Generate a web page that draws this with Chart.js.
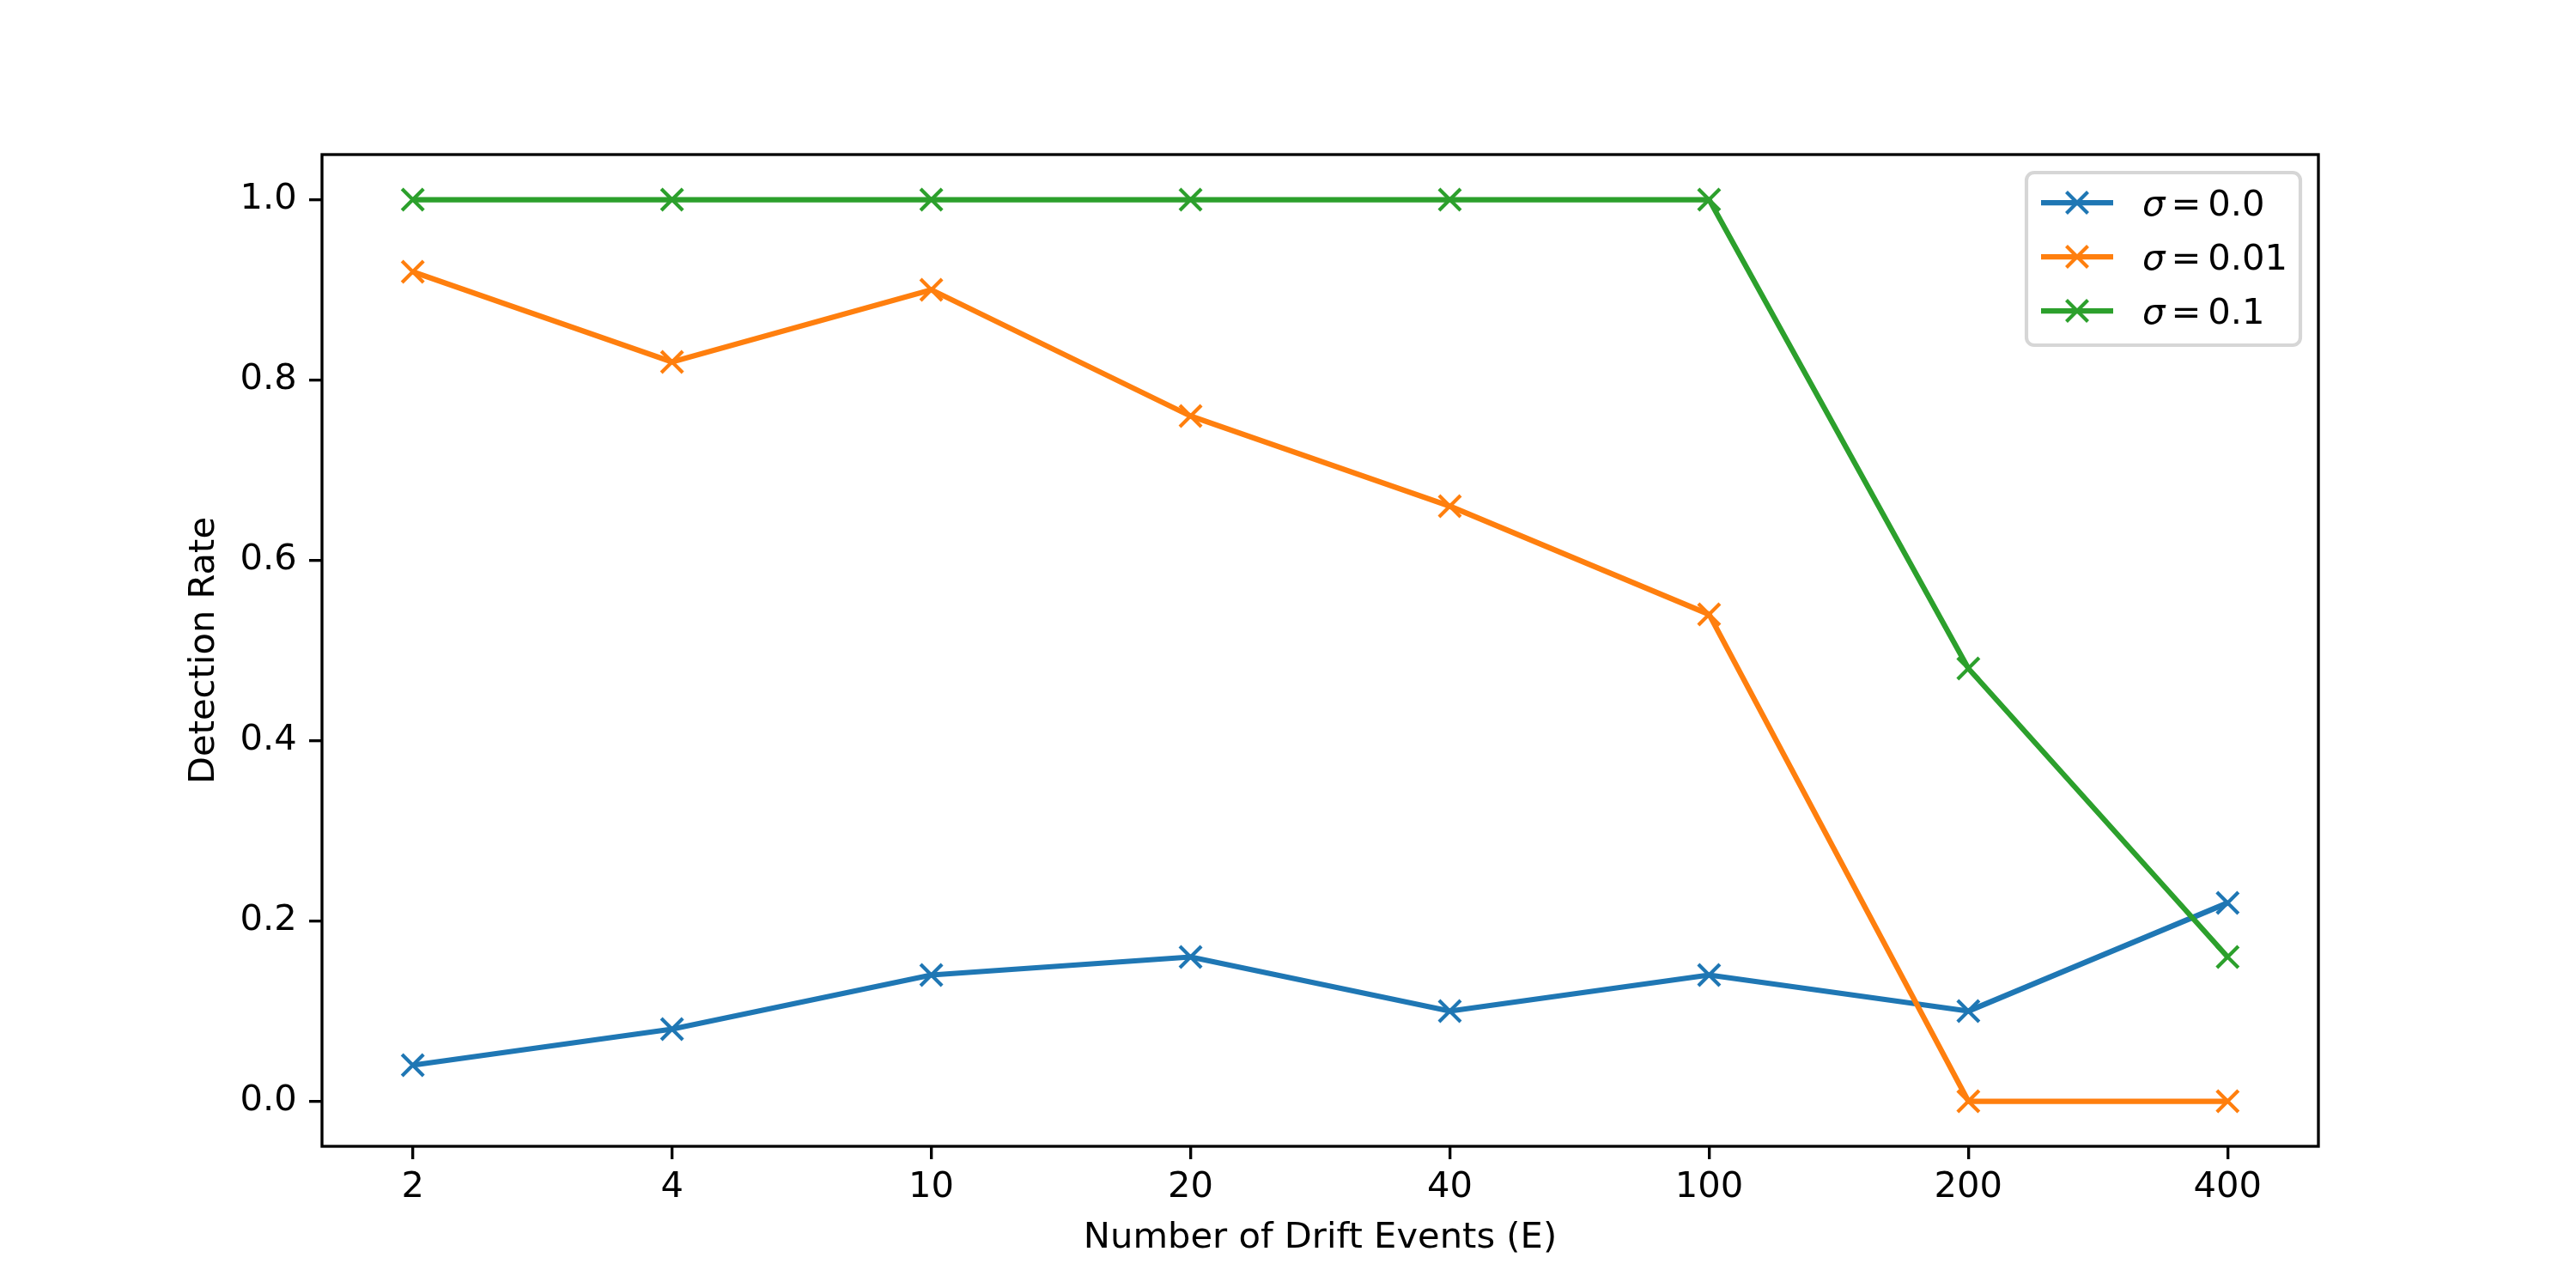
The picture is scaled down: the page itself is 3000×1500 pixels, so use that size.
<!DOCTYPE html>
<html><head><meta charset="utf-8">
<script src="https://cdn.jsdelivr.net/npm/chart.js@4/dist/chart.umd.min.js"></script>
<style>html,body{margin:0;padding:0;background:#fff;} canvas{display:block;}</style>
</head><body>
<div style="width:3000px;height:1500px"><canvas id="c" width="3000" height="1500" style="width:3000px;height:1500px"></canvas></div>
<script>
const categories = ['2','4','10','20','40','100','200','400'];
const sigma0   = [0.04, 0.08, 0.14, 0.16, 0.10, 0.14, 0.10, 0.22];
const sigma001 = [0.92, 0.82, 0.90, 0.76, 0.66, 0.54, 0.00, 0.00];
const sigma01  = [1.00, 1.00, 1.00, 1.00, 1.00, 1.00, 0.48, 0.16];
const seriesLabels = ['σ = 0.0', 'σ = 0.01', 'σ = 0.1'];
const seriesColors = ['#1f77b4', '#ff7f0e', '#2ca02c'];
const yTickValues = [0.0, 0.2, 0.4, 0.6, 0.8, 1.0];
const xTitle = 'Number of Drift Events (E)';
const yTitle = 'Detection Rate';

const FS = 41.67;
const FAMILY = 'DejaVu Sans';
Chart.defaults.font.family = FAMILY;
Chart.defaults.font.size = FS;
Chart.defaults.color = '#000';

const seriesValues = [sigma0, sigma001, sigma01];
const datasets = seriesValues.map((vals, i) => ({
  label: seriesLabels[i],
  data: vals.map((v, j) => ({x: j, y: v})),
  borderColor: seriesColors[i],
  backgroundColor: seriesColors[i],
  pointBorderColor: seriesColors[i],
  pointBackgroundColor: seriesColors[i],
  borderWidth: 6.25,
  pointStyle: 'crossRot',
  pointRadius: 17.7,
  pointHoverRadius: 17.7,
  pointBorderWidth: 4.17,
  tension: 0,
  fill: false,
  borderJoinStyle: 'round',
  order: seriesValues.length - i
}));

const spinePlugin = {
  id: 'spines',
  afterDatasetsDraw(chart) {
    const {ctx, chartArea: a} = chart;
    ctx.save();
    ctx.strokeStyle = '#000';
    ctx.lineWidth = 3.33;
    ctx.lineJoin = 'miter';
    ctx.strokeRect(a.left, a.top, a.right - a.left, a.bottom - a.top);
    ctx.restore();
  }
};

const legendPlugin = {
  id: 'mplLegend',
  afterDraw(chart) {
    const {ctx, chartArea: a} = chart;
    const w = 319, h = 201;
    const bx = a.right - 21 - w, by = a.top + 21;
    ctx.save();
    ctx.fillStyle = 'rgba(255,255,255,0.8)';
    ctx.strokeStyle = '#d6d6d6';
    ctx.lineWidth = 4.17;
    ctx.beginPath();
    ctx.roundRect(bx, by, w, h, 9);
    ctx.fill();
    ctx.stroke();
    chart.data.datasets.forEach((ds, i) => {
      const cy = by + 35 + i * 63;
      const x0 = bx + 17, x1 = bx + 101, cx = (x0 + x1) / 2;
      ctx.strokeStyle = ds.borderColor;
      ctx.lineWidth = 6.25;
      ctx.lineCap = 'butt';
      ctx.beginPath(); ctx.moveTo(x0, cy); ctx.lineTo(x1, cy); ctx.stroke();
      const m = 12.5;
      ctx.lineWidth = 4.17;
      ctx.beginPath();
      ctx.moveTo(cx - m, cy - m); ctx.lineTo(cx + m, cy + m);
      ctx.moveTo(cx - m, cy + m); ctx.lineTo(cx + m, cy - m);
      ctx.stroke();
      const parts = ds.label.split(' ');
      const tx = bx + 135, ty = cy + 15;
      ctx.fillStyle = '#000';
      ctx.textBaseline = 'alphabetic';
      ctx.textAlign = 'left';
      ctx.font = 'italic ' + FS + 'px "' + FAMILY + '"';
      ctx.fillText(parts[0], tx, ty);
      ctx.font = FS + 'px "' + FAMILY + '"';
      ctx.fillText(parts[1], tx + 33.5, ty);
      ctx.fillText(parts[2], tx + 76.3, ty);
    });
    ctx.restore();
  }
};

new Chart(document.getElementById('c'), {
  type: 'line',
  data: {datasets},
  options: {
    responsive: false,
    devicePixelRatio: 1,
    animation: false,
    events: [],
    layout: {padding: {left: 0, top: 180, right: 300, bottom: 0}},
    plugins: {legend: {display: false}, tooltip: {enabled: false}},
    scales: {
      x: {
        type: 'linear',
        position: 'bottom',
        min: -0.35,
        max: 7.35,
        afterBuildTicks: (s) => { s.ticks = categories.map((c, i) => ({value: i})); },
        afterFit: (s) => { s.height = 165; },
        ticks: {
          callback: (v) => categories[Math.round(v)],
          padding: 8.6,
          maxRotation: 0,
          autoSkip: false,
          font: {size: FS, family: FAMILY},
          color: '#000'
        },
        grid: {drawOnChartArea: false, drawTicks: true, tickLength: 15, color: '#000', lineWidth: 3.33},
        border: {display: false},
        title: {display: true, text: xTitle, font: {size: FS, family: FAMILY}, color: '#000', padding: {top: 0, bottom: 32.4}}
      },
      y: {
        type: 'linear',
        position: 'left',
        min: -0.05,
        max: 1.05,
        afterBuildTicks: (s) => { s.ticks = yTickValues.map(v => ({value: v})); },
        afterFit: (s) => { s.width = 375; },
        ticks: {
          callback: (v) => Number(v).toFixed(1),
          padding: 14.2,
          autoSkip: false,
          font: {size: FS, family: FAMILY},
          color: '#000'
        },
        grid: {drawOnChartArea: false, drawTicks: true, tickLength: 15, color: '#000', lineWidth: 3.33},
        border: {display: false},
        title: {display: true, text: yTitle, font: {size: FS, family: FAMILY}, color: '#000', padding: {top: 213.6, bottom: 0}}
      }
    }
  },
  plugins: [spinePlugin, legendPlugin]
});
</script>
</body></html>
